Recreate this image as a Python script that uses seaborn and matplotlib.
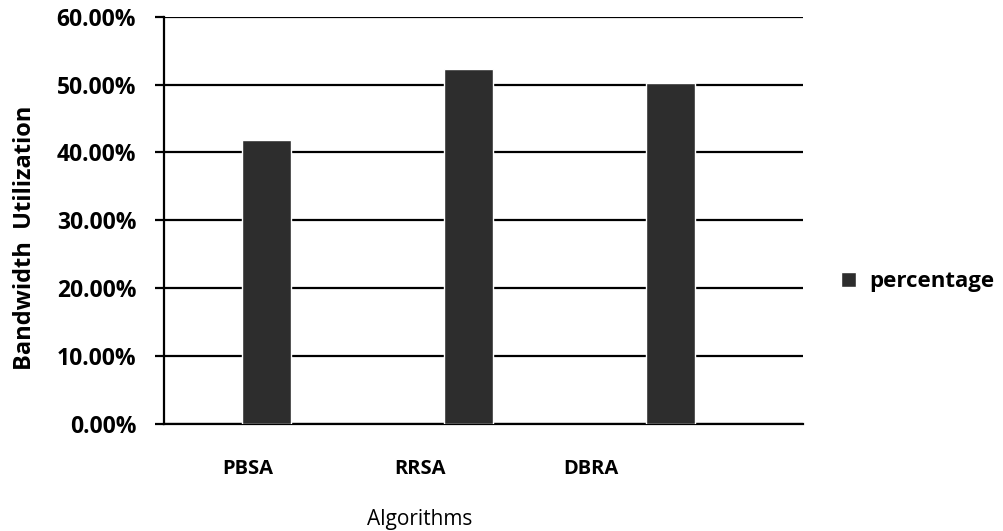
import matplotlib
matplotlib.use("Agg")
import matplotlib.pyplot as plt
from matplotlib.ticker import PercentFormatter, MultipleLocator
import seaborn as sns
import pandas as pd

algorithms = ["PBSA", "RRSA", "DBRA"]
utilization = [0.418, 0.523, 0.503]
series_name = "percentage"

sns.set_theme(style="white")
plt.rcParams["font.family"] = ["Open Sans", "DejaVu Sans"]

df = pd.DataFrame({"Algorithms": algorithms,
                   "value": utilization,
                   "series": [series_name] * len(algorithms)})

fig = plt.figure(figsize=(10.04, 5.31), dpi=100)
ax = fig.add_axes([0.1636, 0.2015, 0.7995 - 0.1636, 0.9686 - 0.2015])

sns.barplot(data=df, x="Algorithms", y="value", hue="series",
            palette=["#2d2d2d"], width=0.245, saturation=1,
            ax=ax, zorder=3, legend=True)

ax.set_ylim(0, 0.60)
ax.set_xlim(-0.506, 2.653)
ax.yaxis.set_major_locator(MultipleLocator(0.10))
ax.yaxis.set_major_formatter(PercentFormatter(xmax=1, decimals=2))
ax.grid(axis="y", color="black", linewidth=1.6, zorder=0)
ax.grid(axis="x", visible=False)

# category labels sit on a slightly narrower, left-shifted grid than the bars
label_pos = [-0.092 + 0.849 * i for i in range(len(algorithms))]
ax.set_xticks(label_pos)
ax.set_xticklabels(algorithms)

for side in ["top", "right"]:
    ax.spines[side].set_visible(False)
ax.spines["left"].set_color("black")
ax.spines["left"].set_linewidth(1.6)
ax.spines["bottom"].set_color("black")
ax.spines["bottom"].set_linewidth(1.6)

ax.tick_params(axis="y", which="major", left=True, length=6.2, width=1.6,
               color="black", pad=14, labelsize=16.5)
ax.tick_params(axis="x", bottom=False, pad=19, labelsize=14.5)
for lab in ax.get_yticklabels() + ax.get_xticklabels():
    lab.set_fontweight("bold")
    lab.set_color("black")

ax.set_ylabel("Bandwidth  Utilization", fontsize=17, fontweight="bold",
              color="black")
ax.yaxis.set_label_coords(-0.200, 0.457)
ax.set_xlabel("Algorithms", fontsize=15, color="black")
ax.xaxis.set_label_coords(0.40, -0.208)

leg = ax.legend(loc="center left", bbox_to_anchor=(0.818, 0.47),
                bbox_transform=fig.transFigure, frameon=False,
                handlelength=0.65, handleheight=0.65, handletextpad=0.6,
                prop={"size": 16, "weight": "bold"})
for t in leg.get_texts():
    t.set_color("black")

fig.savefig("out.png", dpi=100)
